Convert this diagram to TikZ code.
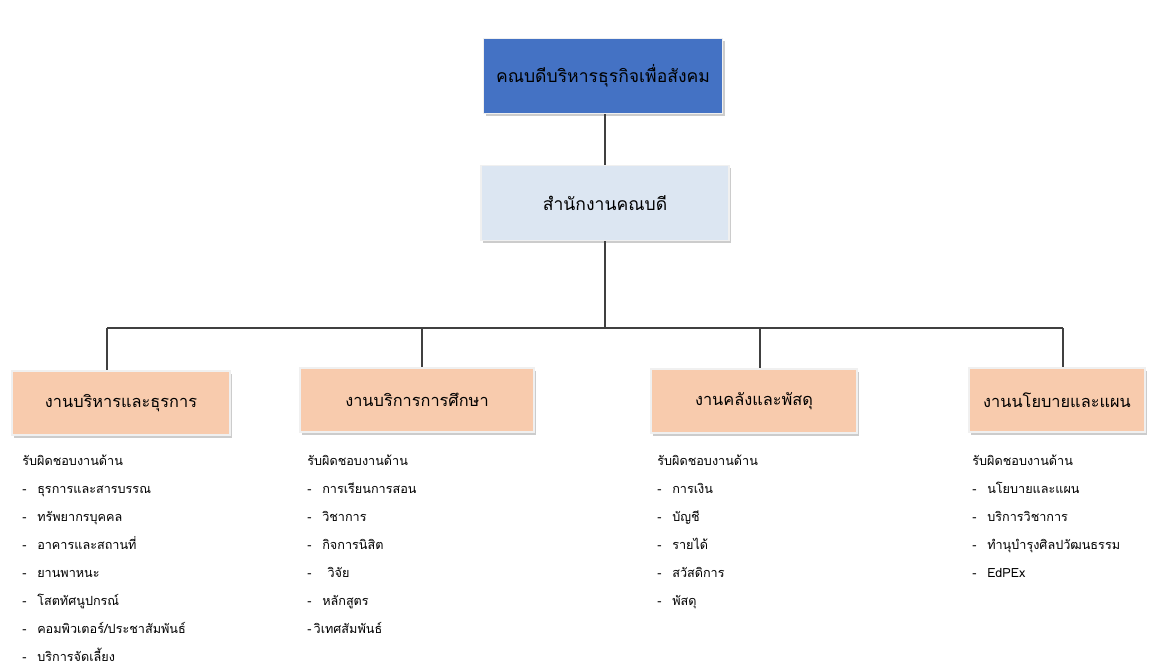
\documentclass[tikz,border=0pt]{standalone}
\usepackage{fontspec}
\newfontfamily\thaifont[Script=Thai]{Loma}
\usetikzlibrary{shadows}

\definecolor{deanblue}{RGB}{68,114,196}
\definecolor{officeblue}{RGB}{220,230,242}
\definecolor{unitpeach}{RGB}{248,203,173}
\definecolor{linegray}{RGB}{64,64,64}

\newcommand{\itm}[1]{\makebox[8.5pt][l]{-}#1}

\tikzset{
  orgbox/.style={draw=gray!12, line width=1pt, inner sep=0pt,
    drop shadow={shadow xshift=1.2pt, shadow yshift=-1.5pt, fill=gray!80}},
  deanbox/.style={orgbox, fill=deanblue, minimum width=239*0.02cm,
    minimum height=75*0.02cm, font=\thaifont\fontsize{10}{12}\selectfont},
  officebox/.style={orgbox, fill=officeblue, minimum width=248*0.02cm,
    minimum height=75*0.02cm, font=\thaifont\fontsize{10}{12}\selectfont},
  unitbox/.style={orgbox, fill=unitpeach, minimum height=64*0.02cm,
    font=\thaifont\fontsize{9.3}{11}\selectfont},
  dutylist/.style={anchor=north west, inner sep=0pt, align=left,
    font=\thaifont\fontsize{7.2}{15.9}\selectfont},
  link/.style={draw=linegray, line width=0.6pt}
}

\begin{document}
\begin{tikzpicture}[x=0.02cm, y=-0.02cm]
        \useasboundingbox (0,0) rectangle (1150,670);

        % Top levels.
        \node[deanbox] (dean) at (603,76) {คณบดีบริหารธุรกิจเพื่อสังคม};
        \node[officebox] (office) at (605,203) {สำนักงานคณบดี};

        % Units.
        \node[unitbox, minimum width=218*0.02cm] (admin) at (121,403) {งานบริหารและธุรการ};
        \node[unitbox, minimum width=234*0.02cm] (edu) at (417,400) {งานบริการการศึกษา};
        \node[unitbox, minimum width=206*0.02cm] (fin) at (754,401) {งานคลังและพัสดุ};
        \node[unitbox, minimum width=176*0.02cm] (plan) at (1057,400) {งานนโยบายและแผน};

        % Bus.
        \coordinate (j1) at (107,328);
        \coordinate (j2) at (422,328);
        \coordinate (j3) at (760,328);
        \coordinate (j4) at (1063,328);

        \draw[link] (dean.south -| office.south) -- (office.north);
        \draw[link] (office.south) -- (office.south |- j1);
        \draw[link] (j1) -- (j4);
        \draw[link] (j1) -- (j1 |- admin.north);
        \draw[link] (j2) -- (j2 |- edu.north);
        \draw[link] (j3) -- (j3 |- fin.north);
        \draw[link] (j4) -- (j4 |- plan.north);

        % Duty lists.
        \node[dutylist] (adminlist) at (22,455) {รับผิดชอบงานด้าน\\
          \itm{ธุรการและสารบรรณ}\\ \itm{ทรัพยากรบุคคล}\\ \itm{อาคารและสถานที่}\\
          \itm{ยานพาหนะ}\\ \itm{โสตทัศนูปกรณ์}\\ \itm{คอมพิวเตอร์/ประชาสัมพันธ์}\\
          \itm{บริการจัดเลี้ยง}};
        \node[dutylist] (edulist) at (307,455) {รับผิดชอบงานด้าน\\
          \itm{การเรียนการสอน}\\ \itm{วิชาการ}\\ \itm{กิจการนิสิต}\\
          \itm{\hspace{3pt}วิจัย}\\ \itm{หลักสูตร}\\ -\,วิเทศสัมพันธ์};
        \node[dutylist] (finlist) at (657,455) {รับผิดชอบงานด้าน\\
          \itm{การเงิน}\\ \itm{บัญชี}\\ \itm{รายได้}\\ \itm{สวัสดิการ}\\ \itm{พัสดุ}};
        \node[dutylist] (planlist) at (972,455) {รับผิดชอบงานด้าน\\
          \itm{นโยบายและแผน}\\ \itm{บริการวิชาการ}\\ \itm{ทำนุบำรุงศิลปวัฒนธรรม}\\
          \itm{EdPEx}};

    \end{tikzpicture}
\end{document}
